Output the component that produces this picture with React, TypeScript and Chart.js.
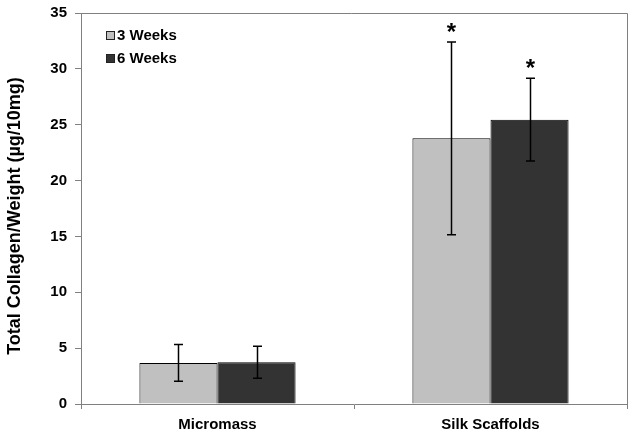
import React, { useEffect, useRef } from "react";
import { Chart, registerables } from "chart.js";

Chart.register(...registerables);

const categories = ["Micromass", "Silk Scaffolds"];
const seriesLabels = ["3 Weeks", "6 Weeks"];
const weeks3 = [3.68, 23.78];
const weeks6 = [3.74, 25.45];
const weeks3Err = [1.64, 8.63];
const weeks6Err = [1.44, 3.7];
const weeks3Sig = [false, true];
const weeks6Sig = [false, true];
const yTicks = [0, 5, 10, 15, 20, 25, 30, 35];
const yTitle = "Total Collagen/Weight (\u00b5g/10mg)";

const FONT = "'Liberation Sans', Arial, sans-serif";
const AXIS = "#808080";

const extras = {
  id: "extras",
  afterDraw(chart: any) {
    const { ctx } = chart;
    ctx.save();
    ctx.translate(15, 216);
    ctx.rotate(-Math.PI / 2);
    ctx.fillStyle = "#000";
    ctx.font = `bold 18px ${FONT}`;
    ctx.textAlign = "center";
    ctx.textBaseline = "middle";
    ctx.fillText(yTitle, 0, 0);
    ctx.restore();
  },
  afterDatasetsDraw(chart: any) {
    const { ctx, chartArea, scales } = chart;
    const y = scales.y;
    ctx.save();
    ctx.strokeStyle = AXIS;
    ctx.lineWidth = 1;
    ctx.beginPath();
    ctx.moveTo(chartArea.left - 6, Math.round(chartArea.top) + 0.5);
    ctx.lineTo(Math.round(chartArea.right) + 0.5, Math.round(chartArea.top) + 0.5);
    ctx.lineTo(Math.round(chartArea.right) + 0.5, chartArea.bottom + 5);
    ctx.stroke();

    const errs = [weeks3Err, weeks6Err];
    const sigs = [weeks3Sig, weeks6Sig];
    chart.data.datasets.forEach((ds: any, di: number) => {
      const meta = chart.getDatasetMeta(di);
      meta.data.forEach((bar: any, i: number) => {
        const v = ds.data[i];
        const e = errs[di][i];
        const x = Math.round(bar.x) + 0.5;
        const yHi = y.getPixelForValue(v + e);
        const yLo = y.getPixelForValue(v - e);
        ctx.strokeStyle = "#000";
        ctx.lineWidth = 1.5;
        ctx.beginPath();
        ctx.moveTo(x, yHi);
        ctx.lineTo(x, yLo);
        ctx.moveTo(x - 4.5, yHi);
        ctx.lineTo(x + 4.5, yHi);
        ctx.moveTo(x - 4.5, yLo);
        ctx.lineTo(x + 4.5, yLo);
        ctx.stroke();
        if (sigs[di][i]) {
          ctx.fillStyle = "#000";
          ctx.font = `bold 24px ${FONT}`;
          ctx.textAlign = "center";
          ctx.textBaseline = "alphabetic";
          ctx.fillText("*", x, yHi - 2);
        }
      });
    });

    const lx = chartArea.left + 25;
    const rows = [chartArea.top + 22, chartArea.top + 45];
    chart.data.datasets.forEach((ds: any, di: number) => {
      const cy = rows[di];
      ctx.fillStyle = ds.backgroundColor;
      ctx.fillRect(lx, cy - 4, 8, 8);
      ctx.strokeStyle = "#222";
      ctx.lineWidth = 1;
      ctx.strokeRect(lx + 0.5, cy - 3.5, 8, 8);
      ctx.fillStyle = "#000";
      ctx.font = `bold 15px ${FONT}`;
      ctx.textAlign = "left";
      ctx.textBaseline = "middle";
      ctx.fillText(ds.label, lx + 11, cy + 1);
    });
    ctx.restore();
  },
};

export default function App() {
  const ref = useRef<HTMLCanvasElement | null>(null);
  useEffect(() => {
    document.body.style.margin = "0";
    const chart = new Chart(ref.current as HTMLCanvasElement, {
      type: "bar",
      data: {
        labels: categories,
        datasets: [
          {
            label: seriesLabels[0],
            data: weeks3,
            backgroundColor: "#c0c0c0",
            borderColor: "#000000",
            borderWidth: 1,
          },
          {
            label: seriesLabels[1],
            data: weeks6,
            backgroundColor: "#333333",
            borderColor: "#000000",
            borderWidth: 1,
          },
        ],
      },
      options: {
        responsive: false,
        animation: false,
        datasets: { bar: { barPercentage: 1, categoryPercentage: 0.572 } },
        layout: { padding: { left: 0, top: 13, right: 6, bottom: 0 } },
        plugins: { legend: { display: false }, tooltip: { enabled: false } },
        scales: {
          x: {
            afterFit: (s: any) => {
              s.height = 32;
              s.paddingLeft = 0;
              s.paddingRight = 0;
            },
            grid: { drawOnChartArea: false, drawTicks: true, tickLength: 5, color: AXIS, offset: true },
            border: { display: true, color: AXIS, width: 1 },
            ticks: { color: "#000", font: { family: FONT, size: 15, weight: "bold" }, padding: 7 },
          },
          y: {
            min: 0,
            max: 35,
            afterFit: (s: any) => {
              s.width = 81;
              s.paddingTop = 0;
              s.paddingBottom = 0;
            },
            afterBuildTicks: (s: any) => { s.ticks = yTicks.map((v) => ({ value: v })); },
            grid: { drawOnChartArea: false, drawTicks: true, tickLength: 6, color: AXIS },
            border: { display: true, color: AXIS, width: 1 },
            ticks: { color: "#000", font: { family: FONT, size: 15, weight: "bold" }, padding: 8 },
          },
        },
      },
      plugins: [extras],
    } as any);
    return () => chart.destroy();
  }, []);
  return (
    <div style={{ position: "absolute", left: 0, top: 0, width: 633, height: 436 }}>
      <canvas ref={ref} width={633} height={436} />
    </div>
  );
}
